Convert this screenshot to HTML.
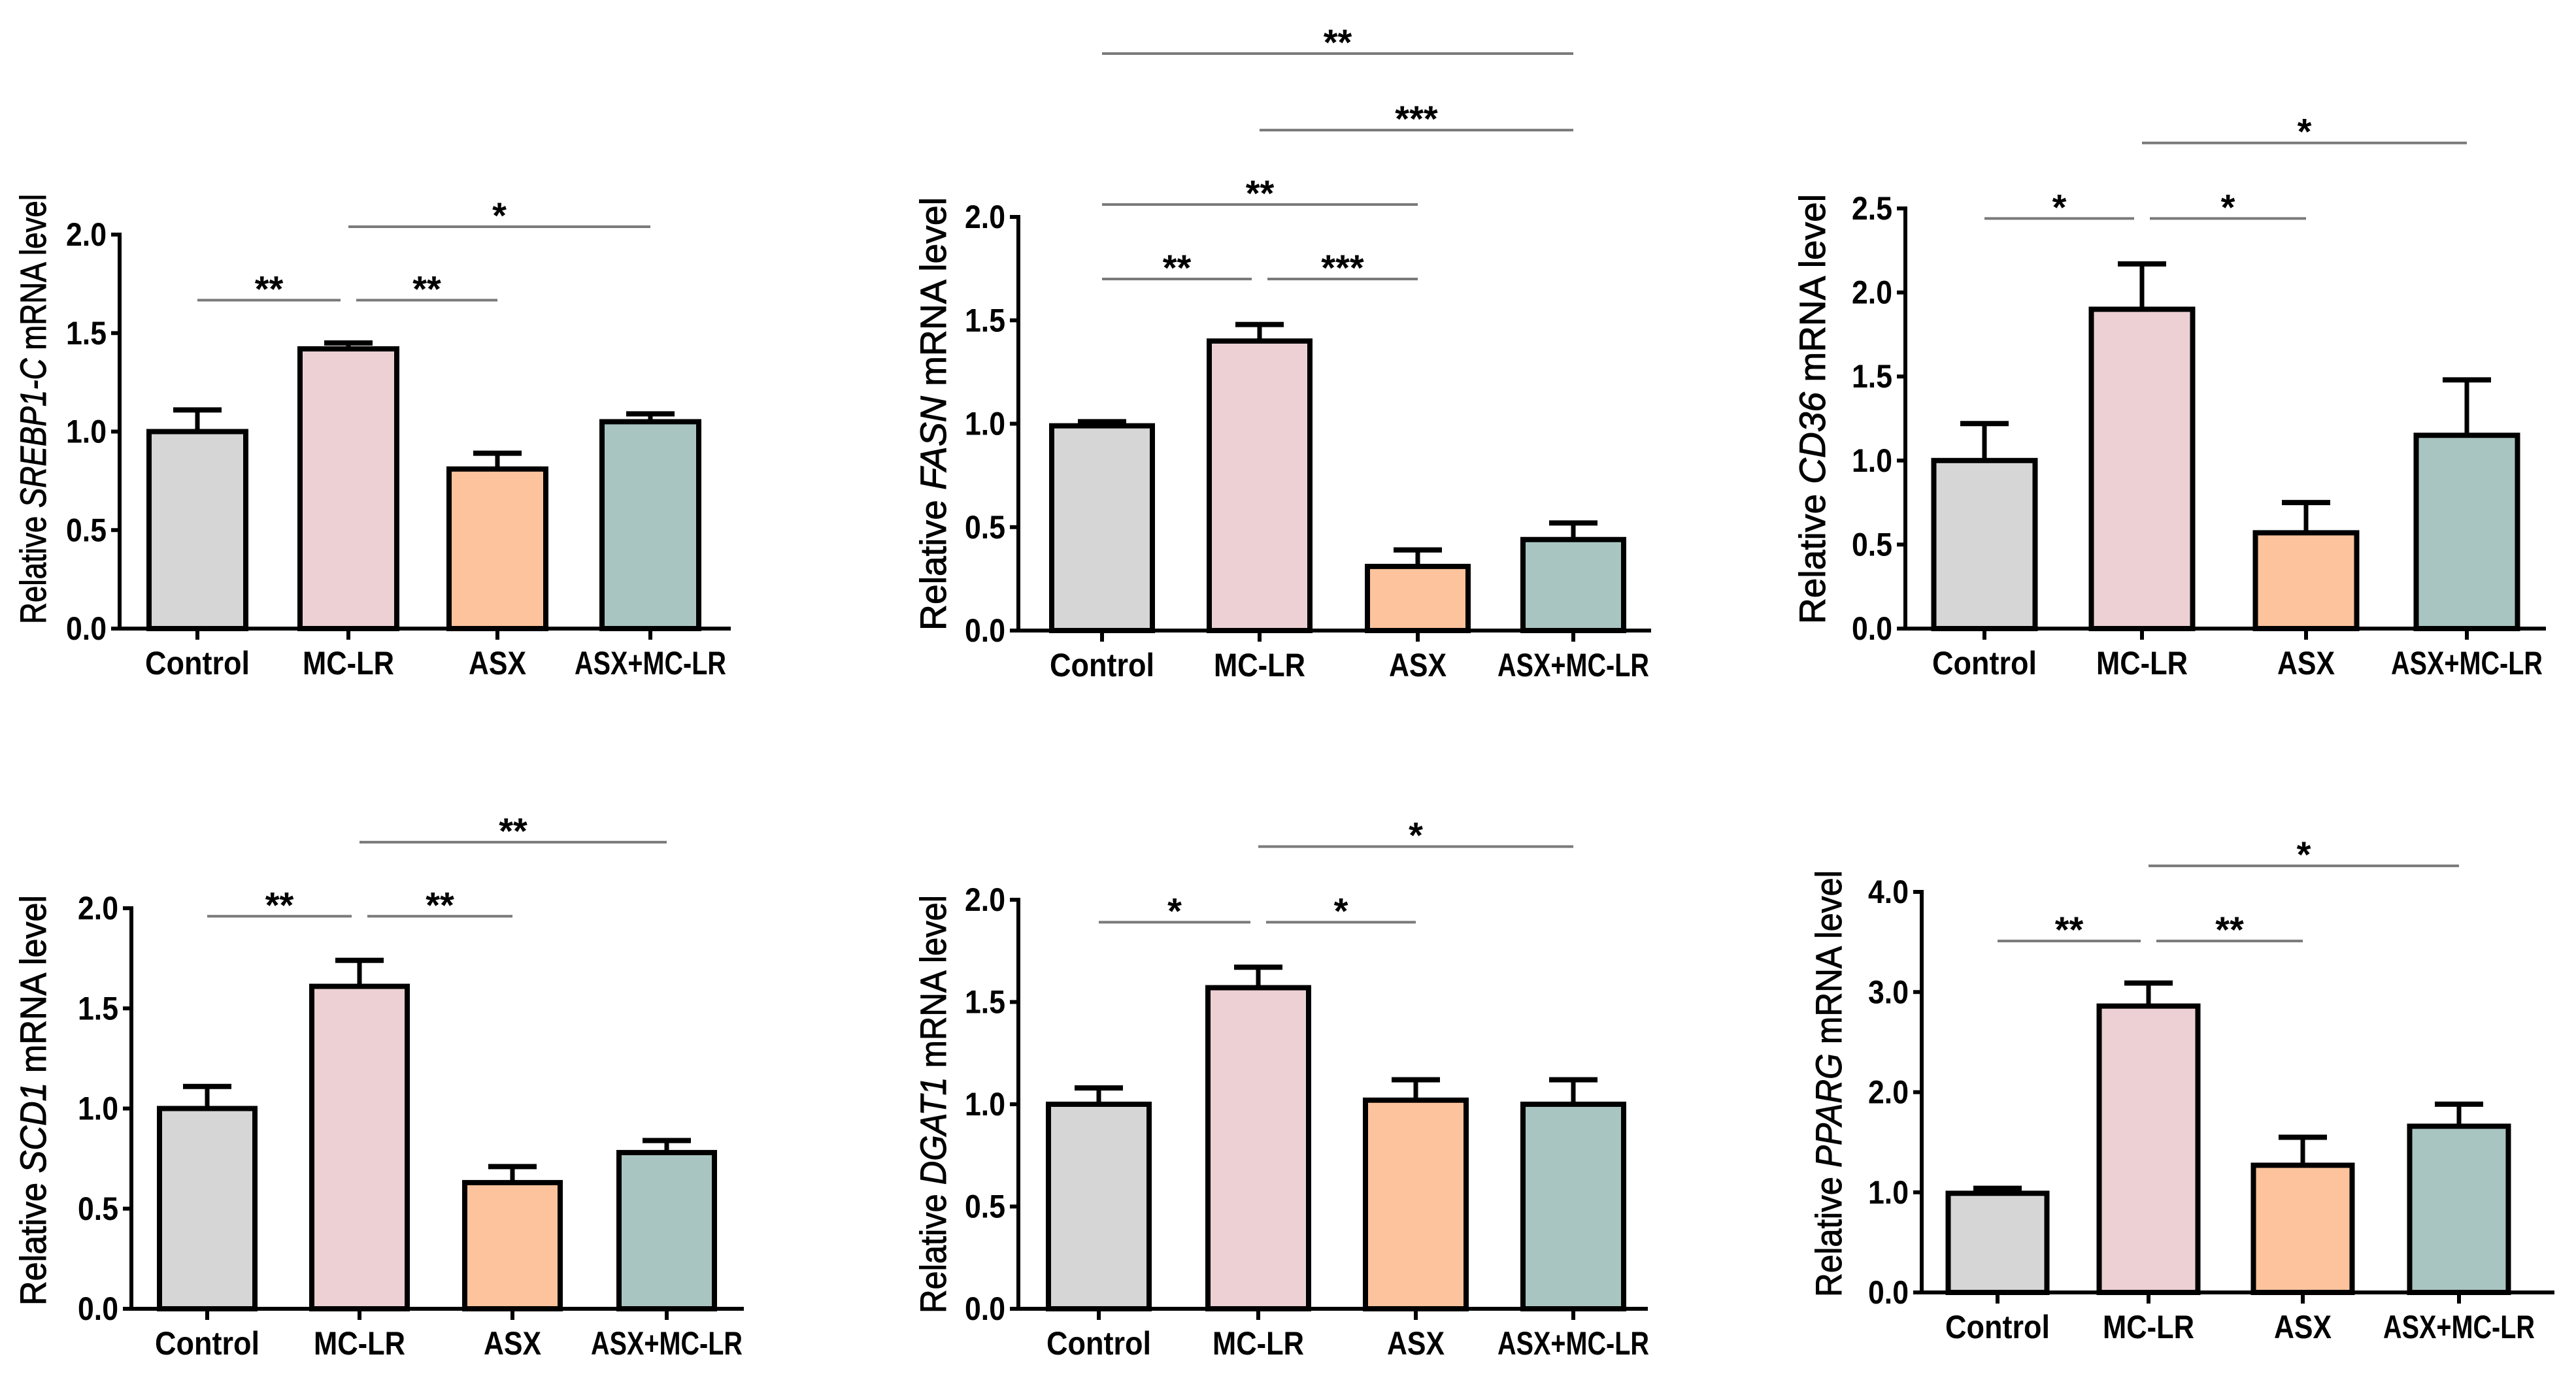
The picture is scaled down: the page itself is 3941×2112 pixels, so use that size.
<!DOCTYPE html>
<html><head><meta charset="utf-8"><style>html,body{margin:0;padding:0;background:#fff;overflow:hidden}svg{display:block}</style></head>
<body>
<svg id="fig" width="3941" height="2112" viewBox="0 0 3941 2112" xmlns="http://www.w3.org/2000/svg"></svg>
<script>
const categories = ["Control","MC-LR","ASX","ASX+MC-LR"];
const genes = ["SREBP1-C","FASN","CD36","SCD1","DGAT1","PPARG"];
const meansSREBP = [1.0,1.42,0.81,1.05];
const errSREBP = [1.11,1.45,0.89,1.09];
const meansFASN = [0.99,1.40,0.31,0.44];
const errFASN = [1.01,1.48,0.39,0.52];
const meansCD36 = [1.0,1.90,0.57,1.15];
const errCD36 = [1.22,2.17,0.75,1.48];
const meansSCD1 = [1.0,1.61,0.63,0.78];
const errSCD1 = [1.11,1.74,0.71,0.84];
const meansDGAT1 = [1.0,1.57,1.02,1.0];
const errDGAT1 = [1.08,1.67,1.12,1.12];
const meansPPARG = [0.99,2.86,1.27,1.66];
const errPPARG = [1.04,3.09,1.55,1.88];
const ticksA = ["0.0","0.5","1.0","1.5","2.0"];
const ticksB = ["0.0","0.5","1.0","1.5","2.0","2.5"];
const ticksC = ["0.0","1.0","2.0","3.0","4.0"];
// significance: [from, to, level(value), label]
const sigSREBP = [[0,1,1.667,"**"],[1,2,1.667,"**"],[1,3,2.04,"*"]];
const sigFASN = [[0,1,1.70,"**"],[1,2,1.70,"***"],[0,2,2.06,"**"],[1,3,2.42,"***"],[0,3,2.79,"**"]];
const sigCD36 = [[0,1,2.44,"*"],[1,2,2.44,"*"],[1,3,2.89,"*"]];
const sigSCD1 = [[0,1,1.96,"**"],[1,2,1.96,"**"],[1,3,2.33,"**"]];
const sigDGAT1 = [[0,1,1.89,"*"],[1,2,1.89,"*"],[1,3,2.26,"*"]];
const sigPPARG = [[0,1,3.51,"**"],[1,2,3.51,"**"],[1,3,4.26,"*"]];

const colors = ["#d6d6d6","#ecd0d3","#fdc39c","#a9c5c1"];
const NS = "http://www.w3.org/2000/svg";
const svg = document.getElementById("fig");
function mk(tag, attrs, parent){const e=document.createElementNS(NS,tag);for(const k in attrs)e.setAttribute(k,attrs[k]);(parent||svg).appendChild(e);return e;}

const panels = [
 {gene:genes[0],m:meansSREBP,e:errSREBP,t:ticksA,max:2,sig:sigSREBP,ax:183,y0:962,ytop:359,xend:1118,tx:[302,533,761,995],bw:148,title:[50,297,955]},
 {gene:genes[1],m:meansFASN,e:errFASN,t:ticksA,max:2,sig:sigFASN,ax:1558,y0:965,ytop:332,xend:2526,tx:[1686,1927,2169,2407],bw:154,title:[1427,302,965]},
 {gene:genes[2],m:meansCD36,e:errCD36,t:ticksB,max:2.5,sig:sigCD36,ax:2915,y0:962,ytop:319,xend:3895,tx:[3036,3277,3528,3774],bw:155,title:[2772,297,955]},
 {gene:genes[3],m:meansSCD1,e:errSCD1,t:ticksA,max:2,sig:sigSCD1,ax:201,y0:2003,ytop:1390,xend:1138,tx:[317,550,784,1020],bw:146,title:[50,1370,1998]},
 {gene:genes[4],m:meansDGAT1,e:errDGAT1,t:ticksA,max:2,sig:sigDGAT1,ax:1558,y0:2003,ytop:1377,xend:2521,tx:[1681,1925,2166,2407],bw:154,title:[1427,1370,2010]},
 {gene:genes[5],m:meansPPARG,e:errPPARG,t:ticksC,max:4,sig:sigPPARG,ax:2940,y0:1978,ytop:1365,xend:3908,tx:[3056,3287,3523,3762],bw:151,title:[2797,1332,1985]}
];

panels.forEach((p,pi)=>{
  const g = mk("g",{});
  
  
  const ys = v => p.y0 - v/p.max*(p.y0-p.ytop);
  p.m.forEach((v,i)=>{
    const cx=p.tx[i];
    const et=ys(p.e[i]);
    const el=mk("line",{x1:cx,x2:cx,y1:ys(v),y2:et,stroke:"#000","stroke-width":7},g);
    
    
    const cap=mk("line",{x1:cx-37,x2:cx+37,y1:et,y2:et,stroke:"#000","stroke-width":8},g);
    
    
    const r=mk("rect",{x:cx-p.bw/2,y:ys(v),width:p.bw,height:p.y0-ys(v),fill:colors[i],stroke:"#000","stroke-width":8},g);
    
    
  });
  const ya=mk("line",{x1:p.ax,x2:p.ax,y1:p.ytop-3,y2:p.y0+3,stroke:"#000","stroke-width":6},g);
  
  
  const xa=mk("line",{x1:p.ax-3,x2:p.xend,y1:p.y0,y2:p.y0,stroke:"#000","stroke-width":6},g);
  
  
  p.t.forEach((lab,k)=>{
    const v=k*p.max/(p.t.length-1), y=ys(v);
    mk("line",{x1:p.ax-13,x2:p.ax,y1:y,y2:y,stroke:"#000","stroke-width":6},g);
    const tt=mk("text",{x:p.ax-20,y:y+17,"text-anchor":"end","font-family":"Liberation Sans, sans-serif","font-weight":"bold","font-size":50,textLength:62,lengthAdjust:"spacingAndGlyphs"},g);
    tt.textContent=lab;
    
    
  });
  categories.forEach((c,i)=>{
    mk("line",{x1:p.tx[i],x2:p.tx[i],y1:p.y0,y2:p.y0+17,stroke:"#000","stroke-width":6},g);
    const lens=[160,140,88,232];
    const ct=mk("text",{x:p.tx[i],y:p.y0+70,"text-anchor":"middle","font-family":"Liberation Sans, sans-serif","font-weight":"bold","font-size":50,textLength:lens[i],lengthAdjust:"spacingAndGlyphs"},g);
    ct.textContent=c;
    
    
  });
  const [tx,t1,t2]=p.title, cy=(t1+t2)/2;
  const yt=mk("text",{x:0,y:0,transform:`translate(${tx+20},${cy}) rotate(-90)`,"text-anchor":"middle","font-family":"Liberation Sans, sans-serif","font-size":56,"stroke":"#000","stroke-width":1,textLength:t2-t1,lengthAdjust:"spacingAndGlyphs"},g);
  
  
  const s1=document.createElementNS(NS,"tspan");s1.textContent="Relative ";yt.appendChild(s1);
  const s2=document.createElementNS(NS,"tspan");s2.setAttribute("font-style","italic");s2.textContent=p.gene;yt.appendChild(s2);
  const s3=document.createElementNS(NS,"tspan");s3.textContent=" mRNA level";yt.appendChild(s3);
  p.sig.forEach(([a,b,lv,lab])=>{
    const adjacent=(b-a)===1;
    let x1=p.tx[a], x2=p.tx[b];
    if(adjacent){ if(a===0) x2-=12; else x1+=12; }
    const y=ys(lv);
    const sl=mk("line",{x1:x1,x2:x2,y1:y,y2:y,stroke:"#7a7a7a","stroke-width":4},g);
    
    
    const st=mk("text",{x:(x1+x2)/2,y:y+2,"text-anchor":"middle","font-family":"Liberation Sans, sans-serif","font-weight":"bold","font-size":56},g);
    st.textContent=lab;
    
    
  });
});
</script>
</body></html>
